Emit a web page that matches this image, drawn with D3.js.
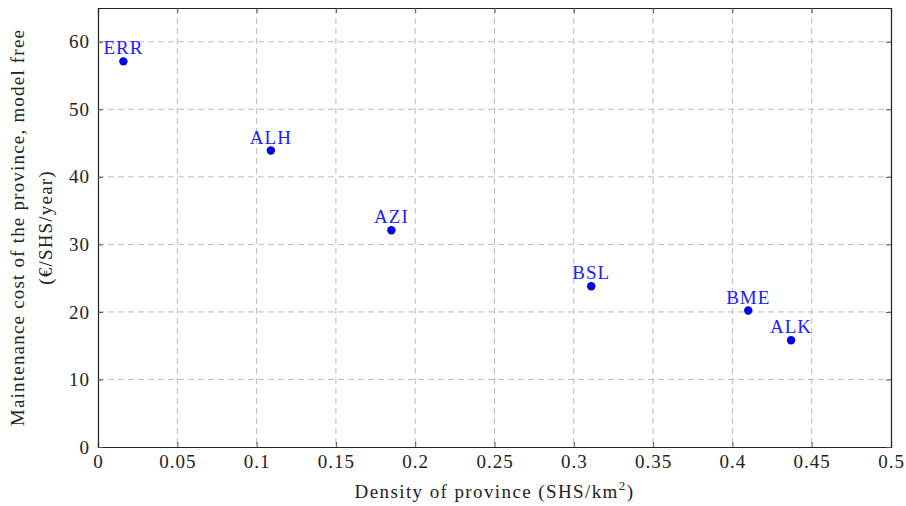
<!DOCTYPE html>
<html>
<head>
<meta charset="utf-8">
<script src="https://cdn.jsdelivr.net/npm/d3@7"></script>
<style>
  body { margin: 0; background: #fff; }
  text { font-family: "Liberation Serif", "DejaVu Serif", serif; }
</style>
</head>
<body>
<div id="chart"></div>
<script>
// datos
const provincias = ["ERR", "ALH", "AZI", "BSL", "BME", "ALK"];
const densidad = [0.016, 0.109, 0.185, 0.311, 0.410, 0.437];
const coste = [57.1, 43.9, 32.1, 23.8, 20.2, 15.8];
const ticksX = [0, 0.05, 0.1, 0.15, 0.2, 0.25, 0.3, 0.35, 0.4, 0.45, 0.5];
const ticksY = [0, 10, 20, 30, 40, 50, 60];

const puntos = provincias.map((p, i) => ({ nombre: p, x: densidad[i], y: coste[i] }));

const ancho = 906, alto = 506;
const margen = { top: 8, right: 15, bottom: 59, left: 98 };
const fuente = "'Liberation Serif', serif";

const svg = d3.select("#chart").append("svg")
    .attr("width", ancho)
    .attr("height", alto);

const escalaX = d3.scaleLinear()
    .domain([0, 0.5])
    .range([margen.left, ancho - margen.right]);

const escalaY = d3.scaleLinear()
    .domain([0, 65])
    .range([alto - margen.bottom, margen.top]);

// rejilla discontinua
svg.append("g")
    .selectAll("line")
    .data(ticksX.slice(1, -1))
    .join("line")
    .attr("x1", d => escalaX(d)).attr("x2", d => escalaX(d))
    .attr("y1", margen.top).attr("y2", alto - margen.bottom)
    .attr("stroke", "#bdbdbd").attr("stroke-dasharray", "6,4");

svg.append("g")
    .selectAll("line")
    .data(ticksY.slice(1))
    .join("line")
    .attr("x1", margen.left).attr("x2", ancho - margen.right)
    .attr("y1", d => escalaY(d)).attr("y2", d => escalaY(d))
    .attr("stroke", "#bdbdbd").attr("stroke-dasharray", "6,4");

// ejes (marcas hacia dentro)
const ejeX = svg.append("g")
    .attr("transform", `translate(0,${alto - margen.bottom})`)
    .call(d3.axisBottom(escalaX).tickValues(ticksX).tickSize(-5).tickFormat(d => d));
const ejeXsup = svg.append("g")
    .attr("transform", `translate(0,${margen.top})`)
    .call(d3.axisTop(escalaX).tickValues(ticksX).tickSize(-5).tickFormat(""));
const ejeY = svg.append("g")
    .attr("transform", `translate(${margen.left},0)`)
    .call(d3.axisLeft(escalaY).tickValues(ticksY).tickSize(-5).tickPadding(8));
const ejeYder = svg.append("g")
    .attr("transform", `translate(${ancho - margen.right},0)`)
    .call(d3.axisRight(escalaY).tickValues(ticksY).tickSize(-5).tickFormat(""));

[ejeX, ejeXsup, ejeY, ejeYder].forEach(g => {
    g.select(".domain").attr("stroke", "#222").attr("stroke-width", 1.2);
    g.selectAll(".tick line").attr("stroke", "#555");
    g.selectAll(".tick text")
        .attr("fill", "#222")
        .style("font-size", "19px")
        .style("letter-spacing", "1px")
        .style("font-family", fuente);
});
ejeX.selectAll(".tick text").attr("y", 21).attr("dy", null);

// puntos
svg.append("g")
    .selectAll("circle")
    .data(puntos)
    .join("circle")
    .attr("cx", d => escalaX(d.x))
    .attr("cy", d => escalaY(d.y))
    .attr("r", 4.2)
    .attr("fill", "#0000e0");

svg.append("g")
    .selectAll("text")
    .data(puntos)
    .join("text")
    .attr("x", d => escalaX(d.x))
    .attr("y", d => escalaY(d.y) - 7)
    .attr("text-anchor", "middle")
    .attr("fill", "#2020ff")
    .style("font-size", "19px")
    .style("letter-spacing", "1px")
    .text(d => d.nombre);

// títulos de ejes
svg.append("text")
    .attr("x", (margen.left + ancho - margen.right) / 2)
    .attr("y", 498)
    .attr("text-anchor", "middle")
    .attr("fill", "#222")
    .style("font-size", "19px")
    .style("letter-spacing", "1.4px")
    .html('Density of province (SHS/km<tspan dy="-8" font-size="13">2</tspan><tspan dy="8">)</tspan>');

const tituloY = svg.append("text")
    .attr("transform", `translate(0,${(margen.top + alto - margen.bottom) / 2}) rotate(-90)`)
    .attr("text-anchor", "middle")
    .attr("fill", "#222")
    .style("font-size", "19px")
    .style("letter-spacing", "1.2px");
tituloY.append("tspan").attr("x", 0).attr("y", 24).text("Maintenance cost of the province, model free");
tituloY.append("tspan").attr("x", 0).attr("y", 52).text("(€/SHS/year)");
</script>
</body>
</html>
